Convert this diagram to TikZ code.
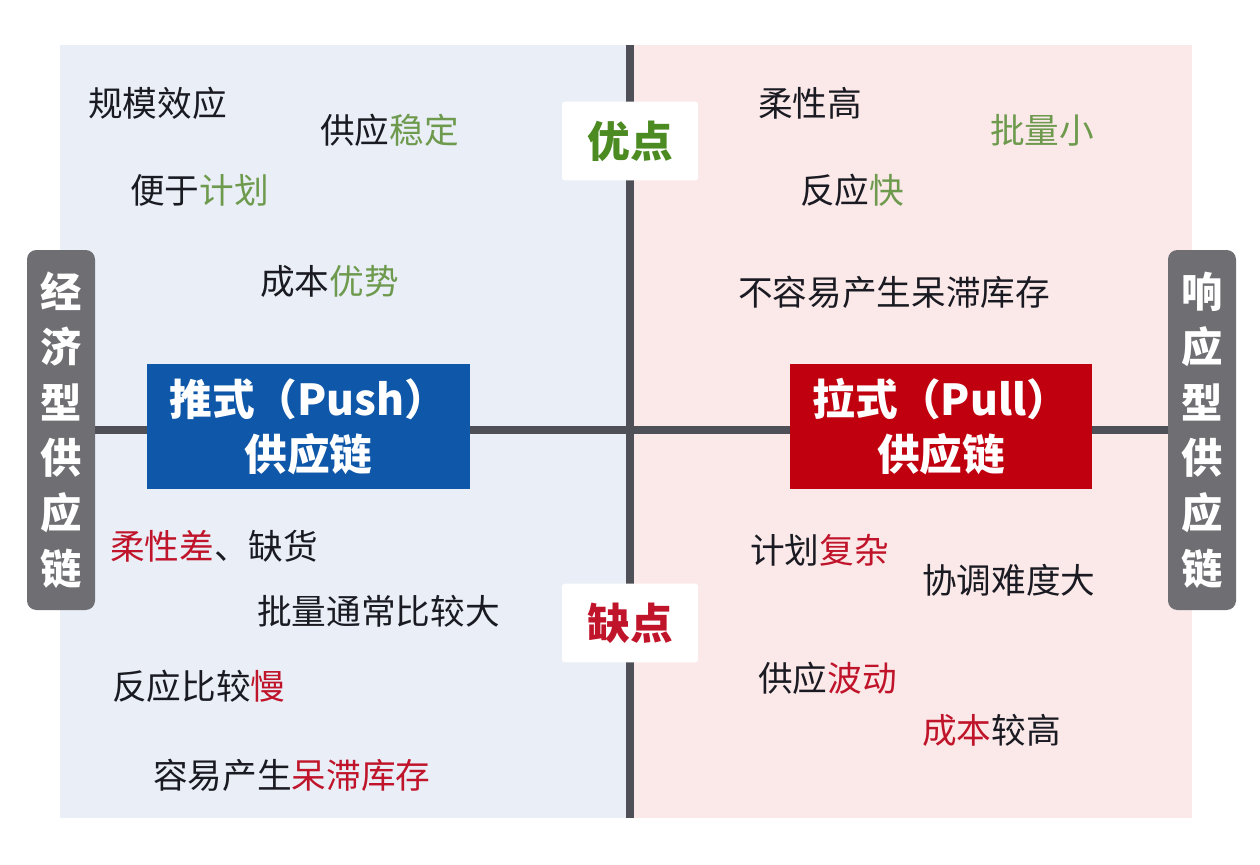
\documentclass[tikz,border=0pt]{standalone}
\usepackage{fontspec}
\newfontfamily\cjk{Noto Sans CJK SC}
\definecolor{panelblue}{HTML}{E9EEF7}
\definecolor{panelpink}{HTML}{FBE9E9}
\definecolor{boxgray}{HTML}{6F6F73}
\definecolor{linegray}{HTML}{4F4F57}
\definecolor{pushblue}{HTML}{0F57A8}
\definecolor{pullred}{HTML}{C0000F}
\definecolor{goodgreen}{HTML}{4C8A22}
\definecolor{lightgreen}{HTML}{6E9A4E}
\definecolor{badred}{HTML}{C0142A}
\definecolor{txt}{HTML}{1A1A22}
\tikzset{
  item/.style={anchor=west, inner sep=0pt, font=\cjk\fontsize{26}{30}\selectfont, text=txt},
  sidebox/.style={fill=boxgray, rounded corners=7pt, minimum width=51pt, minimum height=270pt, inner sep=0pt, text=white, align=center, font=\cjk\bfseries\fontsize{31}{41.5}\selectfont},
  typebox/.style={inner sep=0pt, text=white, align=center, font=\cjk\bfseries\fontsize{32}{41}\selectfont},
  tagbox/.style={fill=white, rounded corners=2pt, minimum width=102pt, minimum height=59pt, inner sep=0pt, font=\cjk\bfseries\fontsize{32}{36}\selectfont},
  axis/.style={draw=linegray, line width=6pt}
}
\newcommand{\gr}[1]{\textcolor{lightgreen}{#1}}
\newcommand{\rd}[1]{\textcolor{badred}{#1}}
\begin{document}
\begin{tikzpicture}[x=0.75pt,y=-0.75pt]
\useasboundingbox (0,0) rectangle (1260,864);
\fill[white] (0,0) rectangle (1260,864);
\fill[panelblue] (60,45) rectangle (630,818);
\fill[panelpink] (630,45) rectangle (1192,818);
% side boxes
\node[sidebox] (leftbox) at (61,430) {经\\济\\型\\供\\应\\链};
\node[sidebox] (rightbox) at (1202,430) {响\\应\\型\\供\\应\\链};
% axes
\coordinate (vtop) at (630,45);
\coordinate (vbot) at (630,818);
\draw[axis] (leftbox.east) -- (rightbox.west);
\draw[axis] (vtop) -- (vbot);
% type boxes
\node[typebox, fill=pushblue, minimum width=242pt, minimum height=94pt] (push) at (308.5,426.5) {推式（Push）\\供应链};
\node[typebox, fill=pullred, minimum width=226pt, minimum height=94pt] (pull) at (941,426.5) {拉式（Pull）\\供应链};
% tags
\node[tagbox, text=goodgreen] (good) at (630,141) {优点};
\node[tagbox, text=badred] (bad) at (630,623) {缺点};
% advantages push
\node[item] (a1) at (88,103) {规模效应};
\node[item] (a2) at (320,130) {供应\gr{稳定}};
\node[item] (a3) at (130,190) {便于\gr{计划}};
\node[item] (a4) at (260,281) {成本\gr{优势}};
% advantages pull
\node[item] (b1) at (758,103) {柔性高};
\node[item] (b2) at (990,130) {\gr{批量小}};
\node[item] (b3) at (800,190) {反应\gr{快}};
\node[item] (b4) at (738,292) {不容易产生呆滞库存};
% disadvantages push
\node[item] (c1) at (110,546) {\rd{柔性差}、缺货};
\node[item] (c2) at (257,611) {批量通常比较大};
\node[item] (c3) at (112,686) {反应比较\rd{慢}};
\node[item] (c4) at (153,775) {容易产生\rd{呆滞库存}};
% disadvantages pull
\node[item] (d1) at (750,550) {计划\rd{复杂}};
\node[item] (d2) at (922,580) {协调难度大};
\node[item] (d3) at (758,678) {供应\rd{波动}};
\node[item] (d4) at (922,730) {\rd{成本}较高};
\end{tikzpicture}
\end{document}
